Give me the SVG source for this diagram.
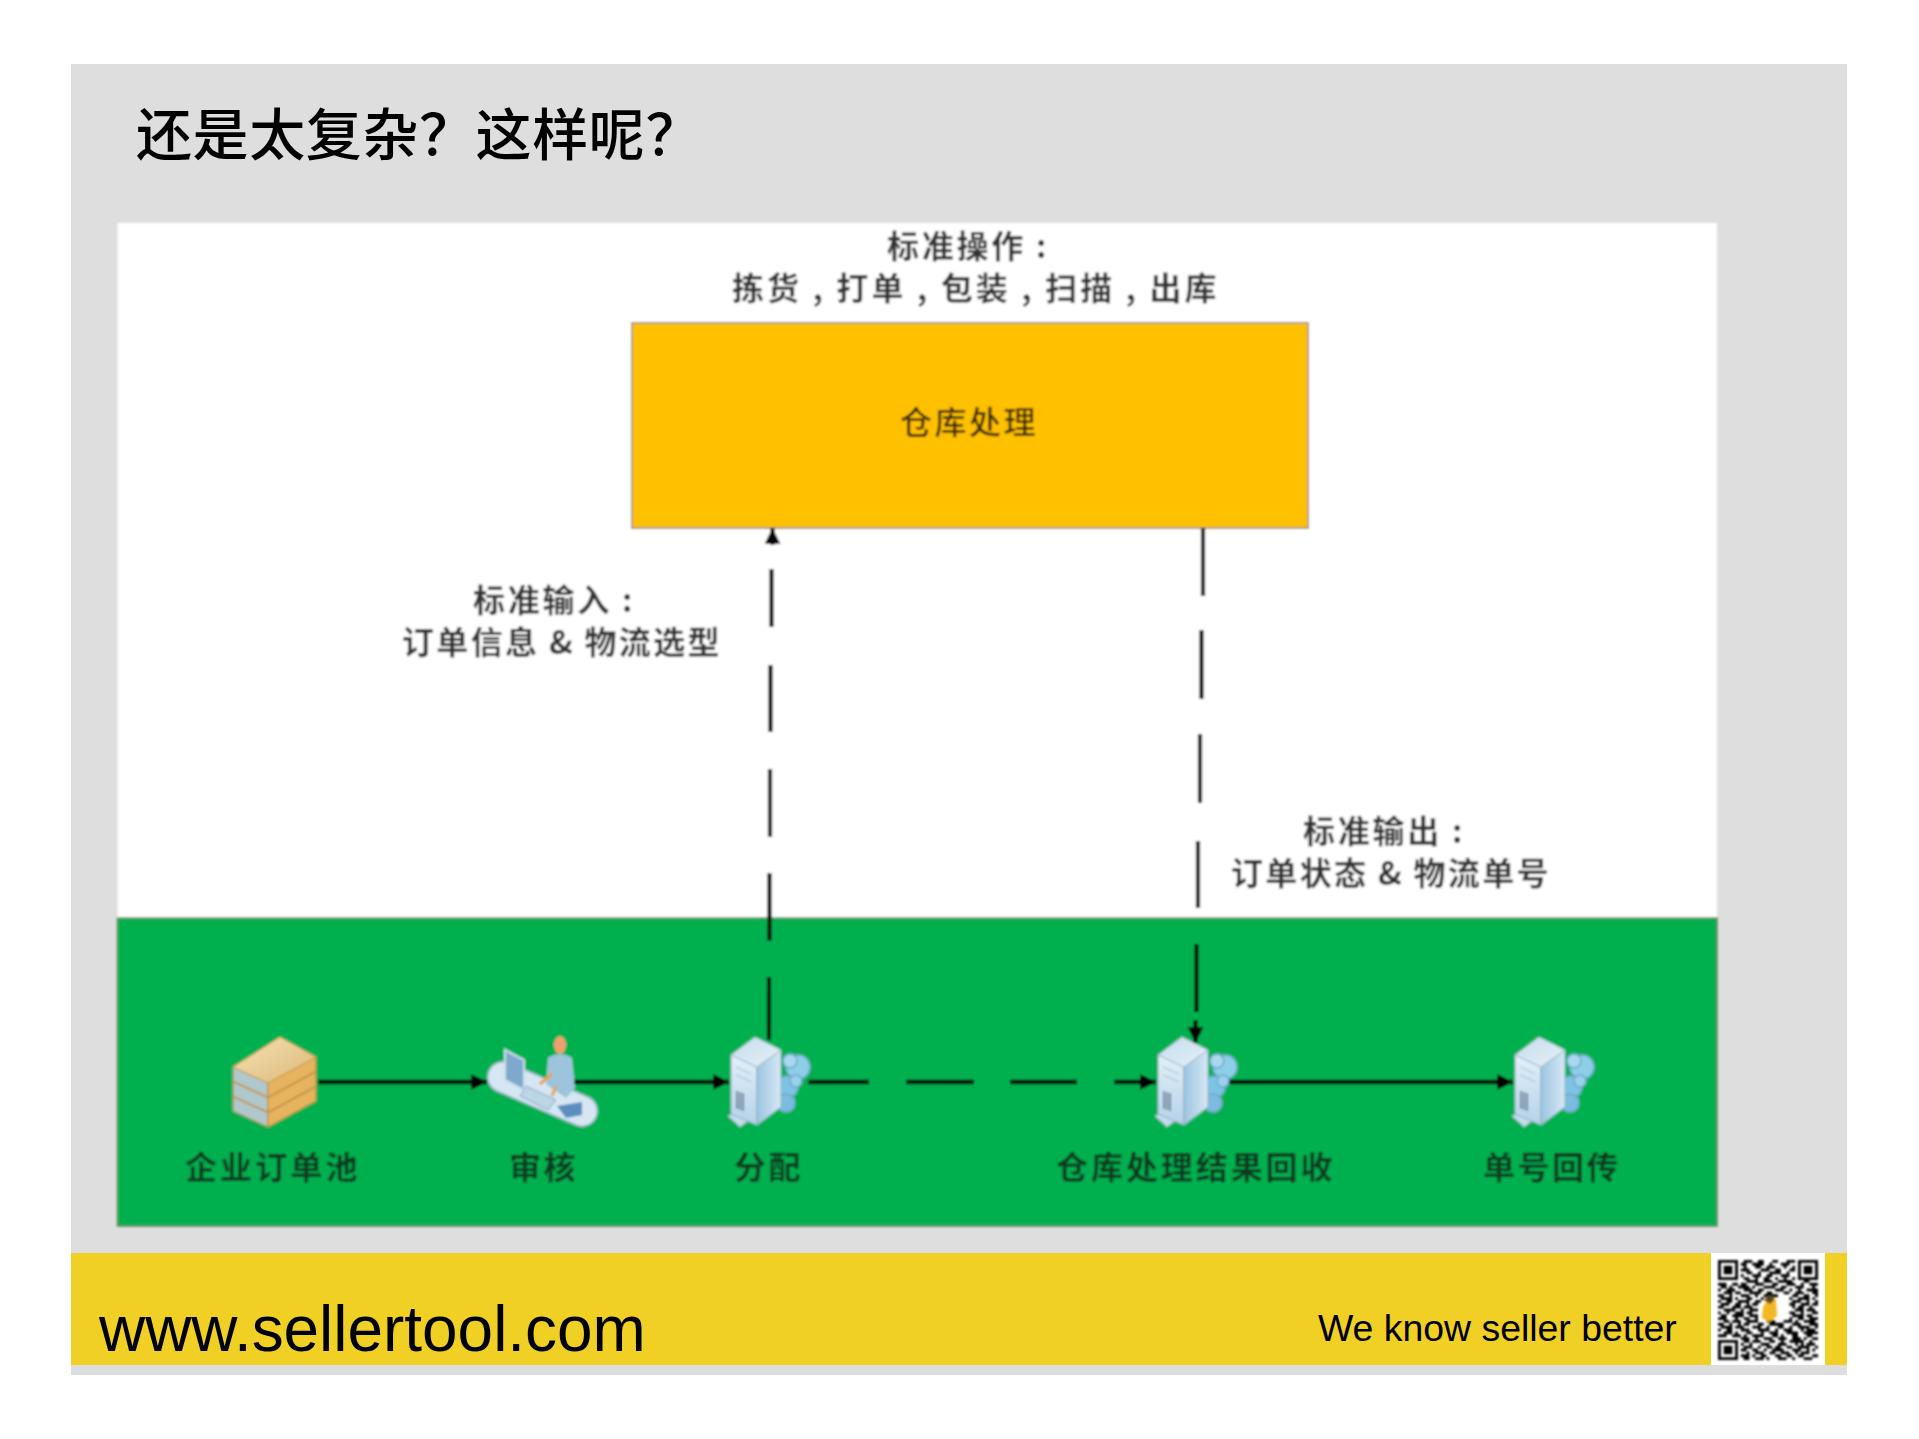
<svg xmlns="http://www.w3.org/2000/svg" width="1919" height="1439" viewBox="0 0 1919 1439">
<style>
text{font-family:"Noto Sans CJK SC","Liberation Sans",sans-serif}
.lbl{font-size:32px;fill:#333;font-weight:700;letter-spacing:2.500px}
.nd{font-size:32px;fill:#0e3a20;letter-spacing:2.500px;font-weight:700}
.foot{font-family:"Liberation Sans",sans-serif;fill:#000}
.solid{fill:none;stroke:#000;stroke-width:4.500}
.dash{fill:none;stroke:#000;stroke-width:4.200}
</style>
<defs>
<filter id="soft" filterUnits="userSpaceOnUse" x="0" y="0" width="1919" height="1439"><feGaussianBlur stdDeviation="0.8"/></filter>
<filter id="qrsoft" filterUnits="userSpaceOnUse" x="1700" y="1250" width="140" height="125"><feGaussianBlur stdDeviation="0.8"/></filter>
<marker id="ah" markerUnits="userSpaceOnUse" markerWidth="17" markerHeight="16" refX="16" refY="8" orient="auto"><path d="M0 0L16 8L0 16Z" fill="#000"/></marker>
<linearGradient id="tp" x1="0" y1="0" x2="1" y2="1"><stop offset="0" stop-color="#c4dcee"/><stop offset="1" stop-color="#e6f0f6"/></linearGradient>
<linearGradient id="lf" x1="0" y1="0" x2="0" y2="1"><stop offset="0" stop-color="#e4f0f8"/><stop offset="1" stop-color="#b4d2e8"/></linearGradient>
<linearGradient id="rt" x1="0" y1="0" x2="1" y2="0"><stop offset="0" stop-color="#9cc4e0"/><stop offset="1" stop-color="#d8e8f4"/></linearGradient>
<linearGradient id="bk" x1="0" y1="0" x2="1" y2="1"><stop offset="0" stop-color="#f6e2b4"/><stop offset="1" stop-color="#dcb878"/></linearGradient>
<g id="srv">
<g stroke="#6ea8cc" stroke-width="1.500">
<circle cx="70" cy="30" r="12" fill="#8ecfe8"/><circle cx="62" cy="24" r="7" fill="#a8d8ee"/><circle cx="59" cy="50" r="11" fill="#7cc4e4"/><circle cx="68" cy="44" r="6" fill="#9ad2ea"/><circle cx="58" cy="66" r="9" fill="#7cbce0"/>
</g>
<path d="M0 79L12 73L24 81L12 90Z" fill="#c4dcec" stroke="#8fb0c8"/>
<path d="M3 18L29 30V88L3 77Z" fill="url(#lf)" stroke="#8fb0c8"/>
<path d="M53 13L29 30V88L53 70Z" fill="url(#rt)" stroke="#8fb0c8"/>
<path d="M27 0L53 13L29 30L3 18Z" fill="url(#tp)" stroke="#9dbcd2"/>
<path d="M9 54V72M12 55V73M15 56V74" stroke="#4f6a80" stroke-width="1.600"/>
<path d="M8 30L24 37M8 38L24 45" stroke="#b8d0e2" stroke-width="1.500"/>
</g>
<g id="book">
<path d="M233 1067L268 1083V1097L233 1081Z" fill="#b0c8cc" stroke="#b98a3c"/>
<path d="M268 1083L316 1057V1071L268 1097Z" fill="#e6b45e" stroke="#b98a3c"/>
<path d="M280 1037L316 1057L268 1083L233 1067Z" fill="url(#bk)" stroke="#c99a50"/>
</g>
</defs>
<rect width="1919" height="1439" fill="#fff"/>
<rect id="panel" x="71" y="64" width="1776" height="1311" fill="#dedede"/>
<text id="title" x="136" y="155" font-size="56" fill="#000" font-weight="500" letter-spacing="0.600">还是太复杂？这样呢？</text>
<g id="picture" filter="url(#soft)">
<rect id="canvas" x="117.500" y="223" width="1599.500" height="695" fill="#fff"/>
<rect id="band" x="117.500" y="918" width="1599.500" height="308" fill="#00b050" stroke="#5f8a5f" stroke-width="1.500"/>
<g id="node-warehouse">
<rect x="632" y="323" width="676" height="205" fill="#ffc000" stroke="#a89a70" stroke-width="2"/>
<text x="900" y="434" style="font-size:32px;fill:#3a2a00;letter-spacing:2.500px;font-weight:500">仓库处理</text>
</g>
<g id="label-op">
<text class="lbl" x="887" y="258" textLength="162">标准操作 :</text>
<text class="lbl" x="732" y="300" textLength="487">拣货 , 打单 , 包装 , 扫描 , 出库</text>
</g>
<g id="label-in">
<text class="lbl" x="473" y="612" textLength="162">标准输入 :</text>
<text class="lbl" x="402" y="654" textLength="320">订单信息 &amp; 物流选型</text>
</g>
<g id="label-out">
<text class="lbl" x="1303" y="843" textLength="162">标准输出 :</text>
<text class="lbl" x="1231" y="885" textLength="320">订单状态 &amp; 物流单号</text>
</g>
<g id="connectors">
<path class="solid" d="M318 1082H487" marker-end="url(#ah)"/>
<path class="solid" d="M570 1082H729" marker-end="url(#ah)"/>
<path class="solid" d="M1225 1082H1513" marker-end="url(#ah)"/>
<path class="solid" d="M808 1082H869M906 1082H974M1010 1082H1077M1114 1082H1156" marker-end="url(#ah)"/>
<path class="dash" d="M769 1040V977M769.500 941V873M770 837V769M770.500 732V665M771.500 627V569M772.500 545V528" marker-end="url(#ah)"/>
<path class="dash" d="M1203 528V596M1201.500 630V699M1200 734V803M1198 841V908M1196.500 944V1012M1195.500 1020V1043" marker-end="url(#ah)"/>
</g>
<g id="node-pool">
<use href="#book" y="30"/>
<use href="#book" y="15"/>
<use href="#book"/>
<text class="nd" x="185" y="1179" textLength="175">企业订单池</text>
</g>
<g id="node-audit">
<path d="M503 1077L582 1111" stroke="#9ab8cf" stroke-width="32" stroke-linecap="round"/>
<path d="M503 1077L582 1111" stroke="#d6e6f2" stroke-width="29" stroke-linecap="round"/>
<path d="M505 1050L524 1060V1090L505 1080Z" fill="#7fa8cc" stroke="#c8deee" stroke-width="2"/>
<ellipse cx="560" cy="1045" rx="6" ry="9" fill="#f0a070"/>
<path d="M548 1058Q560 1050 572 1058L575 1088L566 1098L546 1084Z" fill="#9cc4dc"/>
<path d="M526 1086L556 1100L548 1110L520 1096Z" fill="#bcd6e6" stroke="#8aa8c0"/>
<path d="M557 1106L582 1102L582 1115L566 1118Z" fill="#5b8ec0"/>
<path d="M540 1084L552 1074M552 1096L556 1086" stroke="#e8a040" stroke-width="3"/>
<text class="nd" x="509" y="1179">审核</text>
</g>
<g id="node-assign">
<use href="#srv" x="728" y="1037"/>
<text class="nd" x="734" y="1179">分配</text>
</g>
<g id="node-collect">
<use href="#srv" x="1155" y="1037"/>
<text class="nd" x="1056" y="1179" textLength="279">仓库处理结果回收</text>
</g>
<g id="node-return">
<use href="#srv" x="1512" y="1037"/>
<text class="nd" x="1483" y="1179" textLength="138">单号回传</text>
</g>
</g>
<g id="footer">
<rect x="71" y="1253" width="1776" height="112" fill="#f0d024"/>
<text class="foot" x="99" y="1351" font-size="63.900">www.sellertool.com</text>
<text class="foot" x="1318" y="1341" font-size="37.400">We know seller better</text>
<rect x="1711" y="1253" width="114" height="112" fill="#fff"/>
<g id="qr" filter="url(#qrsoft)">
<path transform="translate(1718 1260) scale(2.857)" fill="none" stroke="#000" stroke-width="1" d="M0 .5h7M0 1.500h1M6 1.500h1M0 2.500h1M2 2.500h3M6 2.500h1M0 3.500h1M2 3.500h3M6 3.500h1M0 4.500h1M2 4.500h3M6 4.500h1M0 5.500h1M6 5.500h1M0 6.500h7M28 .5h7M28 1.500h1M34 1.500h1M28 2.500h1M30 2.500h3M34 2.500h1M28 3.500h1M30 3.500h3M34 3.500h1M28 4.500h1M30 4.500h3M34 4.500h1M28 5.500h1M34 5.500h1M28 6.500h7M0 28.500h7M0 29.500h1M6 29.500h1M0 30.500h1M2 30.500h3M6 30.500h1M0 31.500h1M2 31.500h3M6 31.500h1M0 32.500h1M2 32.500h3M6 32.500h1M0 33.500h1M6 33.500h1M0 34.500h7M9 .5h3M14 .5h2M19 .5h2M24 .5h3M8 1.500h2M12 1.500h4M18 1.500h1M22 1.500h3M9 2.500h1M13 2.500h2M17 2.500h3M23 2.500h1M26 2.500h1M8 3.500h3M15 3.500h3M20 3.500h2M25 3.500h2M10 4.500h2M14 4.500h1M18 4.500h4M24 4.500h1M8 5.500h1M12 5.500h3M17 5.500h2M22 5.500h3M9 6.500h2M13 6.500h1M16 6.500h2M20 6.500h1M23 6.500h1M26 6.500h1M10 7.500h4M16 7.500h3M21 7.500h5M30 7.500h2M0 8.500h3M5 8.500h2M8 8.500h2M13 8.500h3M19 8.500h2M24 8.500h3M29 8.500h1M32 8.500h3M1 9.500h2M4 9.500h1M7 9.500h4M12 9.500h1M16 9.500h4M22 9.500h2M27 9.500h3M33 9.500h1M0 10.500h1M3 10.500h3M9 10.500h3M14 10.500h2M20 10.500h3M25 10.500h1M28 10.500h1M31 10.500h4M2 11.500h3M6 11.500h2M11 11.500h4M17 11.500h2M23 11.500h2M27 11.500h3M33 11.500h2M0 12.500h2M4 12.500h1M8 12.500h3M13 12.500h1M16 12.500h5M26 12.500h2M30 12.500h2M34 12.500h1M1 13.500h4M6 13.500h1M10 13.500h2M15 13.500h1M25 13.500h1M28 13.500h4M33 13.500h1M0 14.500h1M3 14.500h2M7 14.500h4M13 14.500h2M26 14.500h3M31 14.500h1M34 14.500h1M1 15.500h3M6 15.500h2M10 15.500h1M12 15.500h2M25 15.500h2M29 15.500h3M33 15.500h2M0 16.500h2M5 16.500h3M9 16.500h3M26 16.500h1M28 16.500h2M32 16.500h1M2 17.500h4M8 17.500h1M11 17.500h3M27 17.500h3M31 17.500h3M0 18.500h1M3 18.500h1M6 18.500h3M10 18.500h2M25 18.500h2M29 18.500h1M33 18.500h2M1 19.500h2M5 19.500h4M11 19.500h3M26 19.500h4M31 19.500h2M0 20.500h3M6 20.500h1M9 20.500h2M13 20.500h1M25 20.500h1M28 20.500h2M32 20.500h3M2 21.500h2M5 21.500h3M10 21.500h4M17 21.500h3M23 21.500h3M27 21.500h1M30 21.500h4M0 22.500h2M4 22.500h1M7 22.500h1M9 22.500h2M14 22.500h2M18 22.500h5M26 22.500h3M32 22.500h3M1 23.500h4M6 23.500h3M12 23.500h3M17 23.500h1M21 23.500h2M25 23.500h1M28 23.500h4M34 23.500h1M0 24.500h1M3 24.500h2M8 24.500h3M14 24.500h4M20 24.500h1M23 24.500h3M29 24.500h1M31 24.500h3M2 25.500h3M6 25.500h1M10 25.500h2M15 25.500h1M18 25.500h3M24 25.500h4M30 25.500h5M0 26.500h3M5 26.500h3M9 26.500h1M12 26.500h4M19 26.500h2M22 26.500h1M26 26.500h2M31 26.500h2M8 27.500h3M13 27.500h1M16 27.500h3M21 27.500h3M26 27.500h3M30 27.500h1M33 27.500h2M9 28.500h2M12 28.500h3M18 28.500h2M22 28.500h1M25 28.500h5M32 28.500h1M8 29.500h1M11 29.500h1M15 29.500h3M21 29.500h3M27 29.500h1M29 29.500h1M31 29.500h3M9 30.500h3M14 30.500h1M17 30.500h2M20 30.500h2M24 30.500h2M28 30.500h4M34 30.500h1M8 31.500h2M12 31.500h2M16 31.500h1M19 31.500h4M26 31.500h3M31 31.500h1M33 31.500h1M10 32.500h1M13 32.500h3M18 32.500h2M22 32.500h3M27 32.500h1M29 32.500h3M8 33.500h3M12 33.500h1M15 33.500h2M20 33.500h2M24 33.500h2M28 33.500h2M33 33.500h2M9 34.500h2M13 34.500h3M17 34.500h1M21 34.500h3M26 34.500h1M30 34.500h3"/>
<path d="M1763 1307L1769 1296L1776 1300L1777 1316L1769 1322L1762 1318Z" fill="#f2b820"/>
<path d="M1764 1300L1770 1295L1775 1299L1770 1304Z" fill="#5a4a20"/>
</g>
</g>
</svg>
